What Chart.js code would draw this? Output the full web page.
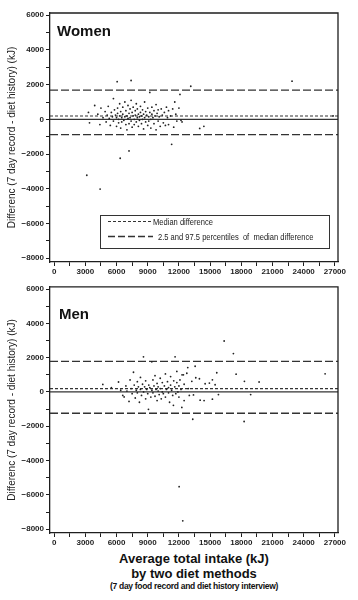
<!DOCTYPE html>
<html>
<head>
<meta charset="utf-8">
<script src="https://cdn.jsdelivr.net/npm/chart.js@4.4.0/dist/chart.umd.min.js"></script>
<style>
  html, body { margin:0; padding:0; background:#fff; }
  #wrap { position:relative; width:358px; height:600px; font-family:"Liberation Sans", Arial, sans-serif; color:#1a1a1a; }
  .cv { position:absolute; left:0; }
  .ptitle { position:absolute; font-weight:bold; font-size:15px; color:#111; }
  .cap { position:absolute; left:0; width:388px; text-align:center; font-weight:bold; color:#111; white-space:nowrap; }
</style>
</head>
<body>
<div id="wrap">
  <canvas id="cw" class="cv" width="358" height="280" style="top:0"></canvas>
  <canvas id="cm" class="cv" width="358" height="270" style="top:280px"></canvas>
  <div class="ptitle" style="left:57px; top:22px;">Women</div>
  <div class="ptitle" style="left:59px; top:305px;">Men</div>
  <div class="cap" style="top:551px; font-size:13px;">Average total intake (kJ)</div>
  <div class="cap" style="top:566px; font-size:13px;">by two diet methods</div>
  <div class="cap" style="top:581px; font-size:8.5px; letter-spacing:-0.3px;">(7 day food record and diet history interview)</div>
</div>
<script>
// ---------- data ----------
const xTicks = [0, 3000, 6000, 9000, 12000, 15000, 18000, 21000, 24000, 27000];
const yTicks = [6000, 4000, 2000, 0, -2000, -4000, -6000, -8000];

const womenX = [3300,3400,3900,4200,4400,4500,4700,4900,5000,5100,5200,5300,5400,5500,5600,5700,5700,5800,5900,6000,
  6000,6100,6100,6200,6200,6300,6300,6400,6400,6500,6500,6600,6600,6700,6800,6800,6900,6900,7000,7000,
  7100,7100,7200,7200,7300,7300,7400,7400,7500,7500,7600,7600,7700,7700,7800,7800,7900,7900,8000,8000,
  8100,8100,8200,8200,8300,8300,8400,8400,8500,8500,8600,8600,8700,8700,8800,8800,8900,9000,9000,9100,
  9100,9200,9200,9300,9300,9400,9400,9500,9600,9600,9700,9800,9800,9900,10000,10000,10100,10200,10300,10400,
  10500,10600,10700,10800,10900,11000,11000,11200,11300,11400,11500,11600,11700,11800,12000,12100,12200,12300,
  6060,7400,13140,22880,26830,14000,14400,7200,6350,3140,4420];
const womenY = [400,-200,800,300,-300,650,100,450,-150,250,750,50,-350,400,150,1200,-100,550,250,-400,
  100,650,350,-200,0,900,200,-500,450,100,-150,700,300,-50,1000,150,-300,500,200,-600,
  800,50,350,-250,600,100,-100,1100,400,-450,200,700,0,-300,500,250,-150,900,100,600,
  -400,300,150,-50,750,400,-250,200,550,0,-550,300,1000,100,-150,450,250,-350,650,150,
  -100,1550,400,0,-500,300,700,100,-250,500,200,-600,850,350,-100,550,150,-400,600,250,
  -200,400,-350,700,100,-300,500,200,-1440,600,-450,1000,300,-100,650,1440,-50,-150,
  2170,2240,1910,2200,200,-520,-400,-1820,-2240,-3220,-4020];

const menX = [4680,5500,6190,6400,6600,6730,6900,7000,7200,7300,7400,7500,7630,7700,7800,7900,8000,8000,8100,8200,
  8300,8300,8400,8500,8590,8600,8700,8800,8800,8900,9000,9070,9100,9200,9300,9390,9400,9500,9500,9600,
  9700,9700,9800,9900,9900,10000,10000,10100,10200,10200,10300,10400,10400,10500,10600,10700,10700,10800,10900,11000,
  11000,11100,11200,11200,11300,11400,11470,11500,11600,11630,11700,11800,11800,11900,12000,12000,12100,12200,12280,12300,
  12430,12500,12500,12760,12850,12900,13000,13240,13330,13400,13560,13620,13970,14040,14420,14520,14930,15220,15480,15220,
  15640,15800,16350,17240,17500,18300,18270,18900,19710,26060,12020,12370];
const menY = [440,250,580,100,-200,-290,350,50,-550,700,200,-100,1150,400,-350,100,600,-50,300,-600,
  850,150,-200,450,2050,0,300,-400,650,150,-100,-1010,400,250,-300,1760,100,700,-50,350,
  -250,950,150,-500,500,50,300,-150,800,200,-400,0,550,-100,350,1050,-300,150,600,-50,
  250,-600,400,900,100,-200,-780,650,300,2050,-100,1200,550,0,350,-300,700,150,-900,1000,
  1000,-500,450,1090,1420,200,-200,620,-1590,-170,1500,830,770,-480,-500,480,520,710,420,-420,
  1120,-150,2970,2240,1040,620,-1720,-150,580,1060,-5520,-7510];

// reference lines: [lower percentile, median, upper percentile]
const womenLines = [-880, 190, 1680];
const menLines = [-1240, 195, 1780];

const legendLabels = ['Median difference', '2.5 and 97.5 percentiles  of  median difference'];

// ---------- chart ----------
const X_MIN = -400, X_MAX = 27300, Y_MIN = -8220, Y_MAX = 6130;
const INK = '#1e1e1e';

const framePlugin = {
  id: 'frame',
  afterDraw(chart) {
    const a = chart.chartArea, c = chart.ctx;
    c.save();
    c.strokeStyle = INK; c.lineWidth = 1.3;
    c.beginPath();
    c.moveTo(a.left, a.top); c.lineTo(a.right, a.top); c.lineTo(a.right, a.bottom);
    c.stroke();
    c.restore();
  }
};

const legendPlugin = {
  id: 'boxLegend',
  afterDraw(chart) {
    const c = chart.ctx;
    c.save();
    c.fillStyle = '#fff';
    c.fillRect(100, 215, 230, 34);
    c.strokeStyle = '#333'; c.lineWidth = 1;
    c.strokeRect(100.5, 215.5, 229, 33);
    // dotted sample
    c.lineWidth = 1.1; c.setLineDash([3, 2]);
    c.beginPath(); c.moveTo(108, 221.5); c.lineTo(151, 221.5); c.stroke();
    // dashed sample
    c.lineWidth = 1.3; c.setLineDash([7, 3]);
    c.beginPath(); c.moveTo(108, 236.5); c.lineTo(153, 236.5); c.stroke();
    c.setLineDash([]);
    c.fillStyle = '#222';
    c.font = '9px "Liberation Sans", Arial, sans-serif';
    c.textBaseline = 'middle';
    [[153, 222.5, legendLabels[0]], [158, 237.5, legendLabels[1]]].forEach(([x, y, t]) => {
      c.save(); c.translate(x, y); c.scale(0.84, 1); c.fillText(t, 0, 0); c.restore();
    });
    c.restore();
  }
};

function makeChart(id, xs, ys, lines, padTop, xAxisH, extra) {
  const pts = xs.map((x, i) => ({x, y: ys[i]}));
  const hline = (v) => [{x: X_MIN, y: v}, {x: X_MAX, y: v}];
  const lineDs = (v, dash, w) => ({
    type: 'line', data: hline(v), borderColor: '#333', borderWidth: w, borderDash: dash,
    pointRadius: 0, fill: false, order: 2
  });
  return new Chart(document.getElementById(id), {
    type: 'scatter',
    data: {
      datasets: [
        {data: pts, pointRadius: 0.9, pointBackgroundColor: '#222', pointBorderWidth: 0, order: 1},
        lineDs(lines[0], [8, 3], 1.3),
        lineDs(lines[2], [8, 3], 1.3),
        lineDs(lines[1], [3, 2], 1.1),
        lineDs(0, [], 1.3)
      ]
    },
    options: {
      responsive: false,
      animation: false,
      layout: {padding: {top: padTop, right: 20, left: 0, bottom: 0}},
      plugins: {legend: {display: false}, tooltip: {enabled: false}},
      scales: {
        x: {
          type: 'linear', min: X_MIN, max: X_MAX,
          afterBuildTicks(s) {
            const t = [];
            xTicks.forEach((v, i) => { t.push({value: v}); if (i < xTicks.length - 1) t.push({value: (v + xTicks[i+1]) / 2}); });
            s.ticks = t;
          },
          afterFit(s) { s.height = xAxisH; },
          ticks: {
            autoSkip: false, maxRotation: 0, padding: 1, color: INK,
            font: {family: 'Liberation Sans', size: 8, weight: 'bold'},
            callback: (v) => xTicks.includes(v) ? String(v) : ''
          },
          grid: {drawOnChartArea: false, drawTicks: true, tickLength: 4, color: INK, lineWidth: 1},
          border: {display: true, color: INK, width: 1.3}
        },
        y: {
          type: 'linear', min: Y_MIN, max: Y_MAX,
          afterBuildTicks(s) {
            const t = [];
            yTicks.forEach((v, i) => { t.push({value: v}); if (i < yTicks.length - 1) t.push({value: (v + yTicks[i+1]) / 2}); });
            s.ticks = t;
          },
          afterFit(s) { s.width = 50; },
          ticks: {
            autoSkip: false, padding: 2, color: INK,
            font: {family: 'Liberation Sans', size: 8, weight: 'bold'},
            callback: (v) => yTicks.includes(v) ? (v < 0 ? '\u2212' + Math.abs(v) : String(v)) : ''
          },
          grid: {drawOnChartArea: false, drawTicks: true, tickLength: 4, color: INK, lineWidth: 1},
          border: {display: true, color: INK, width: 1.3},
          title: {
            display: true, text: 'Differenc (7 day record - diet history) (kJ)',
            color: '#222', font: {family: 'Liberation Sans', size: 10}, padding: {top: 6, bottom: 0}
          }
        }
      }
    },
    plugins: [framePlugin].concat(extra)
  });
}

makeChart('cw', womenX, womenY, womenLines, 13, 18, [legendPlugin]);
makeChart('cm', menX, menY, menLines, 4, 17, []);
</script>
</body>
</html>
